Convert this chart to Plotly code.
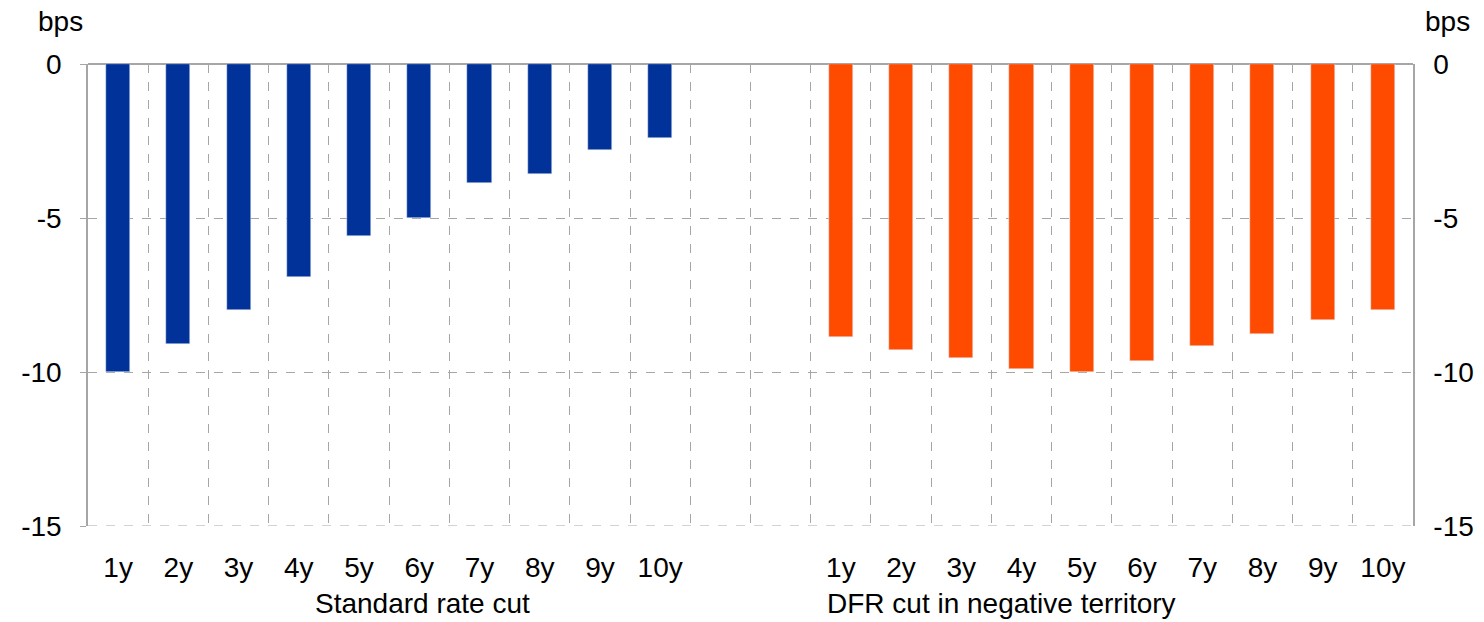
import plotly.graph_objects as go

# maturities, two groups separated by two empty slots
maturities = ['1y', '2y', '3y', '4y', '5y', '6y', '7y', '8y', '9y', '10y']
standard_cut = [-10.0, -9.1, -8.0, -6.9, -5.57, -5.0, -3.87, -3.57, -2.8, -2.4]
dfr_negative = [-8.86, -9.28, -9.56, -9.9, -10.0, -9.65, -9.16, -8.77, -8.3, -8.0]
group_labels = ['Standard rate cut', 'DFR cut in negative territory']
y_ticks = [-15, -10, -5, 0]
y_labels = ['-15', '-10', '-5', '0']

blue = '#003299'
orange = '#FF4B00'
grid = '#A6A6A6'
font = dict(family='Liberation Sans, Arial, sans-serif', size=28, color='black')

n = len(maturities)
x_left = list(range(n))
x_right = [i + n + 2 for i in range(n)]

fig = go.Figure()
fig.add_trace(go.Bar(x=x_left, y=standard_cut, marker_color=blue, width=0.4,
                     name=group_labels[0]))
fig.add_trace(go.Bar(x=x_right, y=dfr_negative, marker_color=orange, width=0.4,
                     name=group_labels[1]))
# invisible trace to activate the right axis
fig.add_trace(go.Scatter(x=[0], y=[0], yaxis='y2', mode='markers',
                         marker=dict(opacity=0), hoverinfo='skip', showlegend=False))

fig.update_layout(
    width=1484, height=622,
    margin=dict(l=88, r=71, t=64, b=96),
    plot_bgcolor='white', paper_bgcolor='white',
    showlegend=False, font=font, bargap=0,
    xaxis=dict(
        range=[-0.5, 2 * n + 1.5], automargin=False,
        tickmode='array', tickvals=x_left + x_right, ticktext=maturities + maturities,
        showgrid=False, zeroline=False, showline=False,
        ticks='outside', ticklen=16, tickcolor='rgba(0,0,0,0)',
        minor=dict(tick0=-0.5, dtick=1, showgrid=True, gridcolor=grid,
                   griddash='dash', gridwidth=1, ticks=''),
    ),
    yaxis=dict(
        range=[-15, 0], automargin=False,
        tickmode='array', tickvals=y_ticks, ticktext=y_labels,
        showgrid=True, gridcolor=grid, griddash='dash',
        zeroline=True, zerolinecolor=grid, zerolinewidth=1.5,
        showline=True, linecolor=grid, linewidth=1.5,
        ticks='outside', ticklen=6, tickcolor=grid, ticklabelstandoff=13,
    ),
    yaxis2=dict(
        range=[-15, 0], automargin=False, overlaying='y', side='right',
        tickmode='array', tickvals=y_ticks, ticktext=y_labels, showgrid=False,
        zeroline=False, showline=True, linecolor=grid, linewidth=1.5,
        ticks='', ticklabelstandoff=13,
    ),
)

# dashed gridline along the bottom edge (-15)
fig.add_shape(type='line', xref='paper', yref='y', x0=0, x1=1, y0=y_ticks[0], y1=y_ticks[0],
              line=dict(color=grid, width=1, dash='dash'), layer='below')

fig.add_annotation(text='bps', xref='paper', yref='paper', x=-0.0211, y=1.091,
                   xanchor='center', yanchor='middle', showarrow=False, font=font)
fig.add_annotation(text='bps', xref='paper', yref='paper', x=1.0257, y=1.091,
                   xanchor='center', yanchor='middle', showarrow=False, font=font)
fig.add_annotation(text=group_labels[0], xref='x', yref='paper', x=5.06, y=-0.168,
                   xanchor='center', yanchor='middle', showarrow=False, font=font)
fig.add_annotation(text=group_labels[1], xref='x', yref='paper', x=14.66, y=-0.168,
                   xanchor='center', yanchor='middle', showarrow=False, font=font)

fig.write_html('out.html', config={'displayModeBar': False},
               post_script="document.body.style.margin='0';")
